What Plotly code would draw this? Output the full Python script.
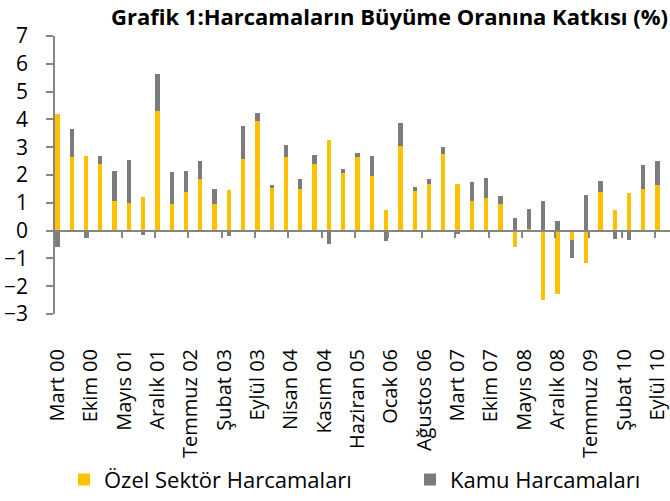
import plotly.graph_objects as go
import pandas as pd

# Quarterly periods (Mar 2000 .. Sep 2010)
quarters = ["2000-03", "2000-06", "2000-09", "2000-12",
            "2001-03", "2001-06", "2001-09", "2001-12",
            "2002-03", "2002-06", "2002-09", "2002-12",
            "2003-03", "2003-06", "2003-09", "2003-12",
            "2004-03", "2004-06", "2004-09", "2004-12",
            "2005-03", "2005-06", "2005-09", "2005-12",
            "2006-03", "2006-06", "2006-09", "2006-12",
            "2007-03", "2007-06", "2007-09", "2007-12",
            "2008-03", "2008-06", "2008-09", "2008-12",
            "2009-03", "2009-06", "2009-09", "2009-12",
            "2010-03", "2010-06", "2010-09"]

ozel_sektor = [4.19, 2.64, 2.68, 2.40, 1.06, 1.01, 1.22, 4.31, 0.94, 1.38,
               1.86, 0.95, 1.45, 2.58, 3.93, 1.54, 2.66, 1.50, 2.38, 3.26,
               2.09, 2.66, 1.97, 0.73, 3.05, 1.44, 1.68, 2.77, 1.66, 1.06,
               1.17, 0.94, -0.59, 0.07, -2.50, -2.29, -0.33, -1.16, 1.38, 0.73,
               1.36, 1.51, 1.64]

kamu = [-0.60, 1.02, -0.25, 0.28, 1.09, 1.52, -0.15, 1.33, 1.17, 0.77,
        0.65, 0.56, -0.19, 1.19, 0.31, 0.10, 0.41, 0.34, 0.33, -0.48,
        0.13, 0.13, 0.73, -0.36, 0.81, 0.12, 0.16, 0.25, -0.12, 0.68,
        0.71, 0.30, 0.46, 0.69, 1.07, 0.34, -0.65, 1.27, 0.39, -0.30,
        -0.35, 0.86, 0.85]

tick_labels = ["Mart 00", "Ekim 00", "Mayıs 01", "Aralık 01", "Temmuz 02",
               "Şubat 03", "Eylül 03", "Nisan 04", "Kasım 04", "Haziran 05",
               "Ocak 06", "Ağustos 06", "Mart 07", "Ekim 07", "Mayıs 08",
               "Aralık 08", "Temmuz 09", "Şubat 10", "Eylül 10"]
tick_step_months = 7

start = pd.Period(quarters[0], freq="M")
x_month = [(pd.Period(q, freq="M") - start).n for q in quarters]
label_pos = [i * tick_step_months for i in range(len(tick_labels))]
boundary_pos = [p + tick_step_months - 0.5 for p in label_pos]

FONT = "Open Sans"
AXIS_COLOR = "#868686"
YELLOW = "#FFC000"
GRAY = "#7C7C7C"

fig = go.Figure()
fig.add_trace(go.Bar(x=x_month, y=ozel_sektor, name="Özel Sektör Harcamaları",
                     marker=dict(color=YELLOW, line=dict(width=0)), width=0.9,
                     legend="legend"))
fig.add_trace(go.Bar(x=x_month, y=kamu, name="Kamu Harcamaları",
                     marker=dict(color=GRAY, line=dict(width=0)), width=0.9,
                     legend="legend2"))
# helper trace so the zero-crossing axis is drawn
fig.add_trace(go.Scatter(x=[0], y=[0], xaxis="x2", mode="markers",
                         marker=dict(opacity=0), showlegend=False, hoverinfo="skip"))

xr = [-0.5, 128.6]
leg_font = dict(family=FONT, size=22, color="black")
leg_y = (321 - 491) / 285
fig.update_layout(
    width=670, height=501,
    margin=dict(l=55, r=0, t=36, b=180),
    paper_bgcolor="white", plot_bgcolor="white",
    barmode="relative", bargap=0,
    font=dict(family=FONT, color="black"),
    title=dict(text="<b>Grafik 1:Harcamaların Büyüme Oranına Katkısı (%)</b>",
               font=dict(family=FONT, size=22, color="black"),
               xref="container", x=668/670, xanchor="right",
               yref="container", y=1 - 17/501, yanchor="middle"),
    xaxis=dict(range=xr, tickmode="array", tickvals=label_pos, ticktext=tick_labels,
               tickangle=-90, ticks="", showline=False, showgrid=False, zeroline=False,
               ticklabelstandoff=30, ticklabeloverflow="allow",
               tickfont=dict(family=FONT, size=20, color="black")),
    xaxis2=dict(range=xr, overlaying="x", anchor="free", position=0.3,
                showticklabels=False, showgrid=False, zeroline=False,
                showline=True, linecolor=AXIS_COLOR, linewidth=2,
                tickmode="array", tickvals=boundary_pos, ticks="outside",
                ticklen=6, tickwidth=1.5, tickcolor=AXIS_COLOR),
    yaxis=dict(range=[-3, 7], tickmode="linear", tick0=0, dtick=1,
               ticks="outside", ticklen=7, tickwidth=1.5, tickcolor=AXIS_COLOR,
               showline=True, linecolor=AXIS_COLOR, linewidth=1.5,
               showgrid=False, zeroline=False, ticklabelstandoff=14,
               tickfont=dict(family=FONT, size=21, color="black")),
    legend=dict(orientation="h", x=(64 - 55) / 615, xanchor="left",
                y=leg_y, yanchor="middle", font=leg_font, bgcolor="rgba(0,0,0,0)"),
    legend2=dict(orientation="h", x=(410 - 55) / 615, xanchor="left",
                 y=leg_y, yanchor="middle", font=leg_font, bgcolor="rgba(0,0,0,0)"),
    showlegend=True,
)

fig.write_html("out.html", config={"displayModeBar": False},
               post_script="document.body.style.margin='0';document.body.style.padding='0';")
